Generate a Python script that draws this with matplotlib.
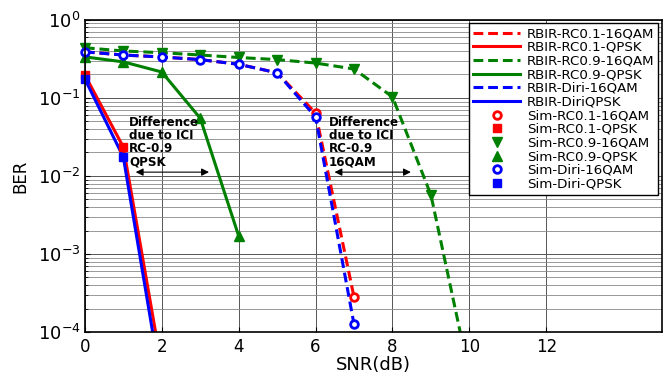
import matplotlib
matplotlib.use("Agg")
import matplotlib.pyplot as plt
import numpy as np

plt.rcParams['font.family'] = ['DejaVu Sans']
plt.rcParams['mathtext.default'] = 'regular'

# SNR points (dB)
snr_qpsk = [0, 1, 2]
snr_rc9_qpsk = [0, 1, 2, 3, 4]
snr_16qam = [0, 1, 2, 3, 4, 5, 6, 7]
snr_rc9_16qam = [0, 1, 2, 3, 4, 5, 6, 7, 8, 9, 10]

# BER values
ber_rc1_qpsk = [0.197, 0.0235, 3.5e-5]
ber_diri_qpsk = [0.175, 0.0175, 2.0e-5]
ber_rc9_qpsk = [0.336, 0.29, 0.215, 0.055, 0.0017]
ber_rc1_16qam = [0.39, 0.355, 0.335, 0.31, 0.27, 0.21, 0.064, 2.8e-4]
ber_diri_16qam = [0.39, 0.355, 0.335, 0.31, 0.27, 0.21, 0.057, 1.25e-4]
ber_rc9_16qam = [0.44, 0.40, 0.38, 0.355, 0.33, 0.31, 0.28, 0.235, 0.103, 0.0057, 2.8e-5]

n_sim_qpsk = 2

red = '#ff0000'
green = '#008000'
blue = '#0000ff'

fig = plt.figure(figsize=(6.63, 3.76), dpi=100)
ax = fig.add_axes([0.128, 0.117, 0.870, 0.830])

lw = 2.2
dash = (3.2, 1.6)
ax.plot(snr_16qam, ber_rc1_16qam, '--', color=red, lw=lw, dashes=dash, label='RBIR-RC0.1-16QAM')
ax.plot(snr_qpsk, ber_rc1_qpsk, '-', color=red, lw=lw, label='RBIR-RC0.1-QPSK')
ax.plot(snr_rc9_16qam, ber_rc9_16qam, '--', color=green, lw=lw, dashes=dash, label='RBIR-RC0.9-16QAM')
ax.plot(snr_rc9_qpsk, ber_rc9_qpsk, '-', color=green, lw=lw, label='RBIR-RC0.9-QPSK')
ax.plot(snr_16qam, ber_diri_16qam, '--', color=blue, lw=lw, dashes=dash, label='RBIR-Diri-16QAM')
ax.plot(snr_qpsk, ber_diri_qpsk, '-', color=blue, lw=lw, label='RBIR-DiriQPSK')

ms = 5.5
ax.plot(snr_16qam[-2:], ber_rc1_16qam[-2:], 'o', mfc='white', mec=red, mew=2, ms=ms, ls='none',
        clip_on=False, label='Sim-RC0.1-16QAM')
ax.plot(snr_qpsk[:n_sim_qpsk], ber_rc1_qpsk[:n_sim_qpsk], 's', mfc=red, mec=red, ms=ms, ls='none',
        clip_on=False, label='Sim-RC0.1-QPSK')
ax.plot(snr_rc9_16qam[:-1], ber_rc9_16qam[:-1], 'v', mfc=green, mec=green, ms=7.5, ls='none',
        clip_on=False, label='Sim-RC0.9-16QAM')
ax.plot(snr_rc9_qpsk, ber_rc9_qpsk, '^', mfc=green, mec=green, ms=7.5, ls='none',
        clip_on=False, label='Sim-RC0.9-QPSK')
ax.plot(snr_16qam, ber_diri_16qam, 'o', mfc='white', mec=blue, mew=2, ms=ms, ls='none',
        clip_on=False, label='Sim-Diri-16QAM')
ax.plot(snr_qpsk[:n_sim_qpsk], ber_diri_qpsk[:n_sim_qpsk], 's', mfc=blue, mec=blue, ms=ms, ls='none',
        clip_on=False, label='Sim-Diri-QPSK')

ax.set_yscale('log')
ax.set_xlim(0, 15)
ax.set_ylim(1e-4, 1)
ax.set_xticks([0, 2, 4, 6, 8, 10, 12])
ax.tick_params(axis='both', which='both', direction='in')
ax.tick_params(axis='x', labelsize=12, pad=4)
ax.tick_params(axis='y', labelsize=13, pad=3)
ax.tick_params(axis='y', which='minor', length=2)
ax.grid(True, which='major', color='#555555', lw=0.7)
ax.grid(True, which='minor', axis='y', color='#888888', lw=0.6)
for s in ax.spines.values():
    s.set_linewidth(1.2)

ax.set_xlabel('SNR(dB)', fontsize=13, labelpad=0)
ax.set_ylabel('BER', fontsize=12, labelpad=6)

ax.text(1.15, 0.058, 'Difference\ndue to ICI\nRC-0.9\nQPSK', fontsize=8.6, fontweight='bold',
        va='top', ha='left', linespacing=1.0)
ax.annotate('', xy=(1.25, 0.0112), xytext=(3.3, 0.0112),
            arrowprops=dict(arrowstyle='<|-|>', color='black', lw=0.8, mutation_scale=11))
ax.text(6.35, 0.058, 'Difference\ndue to ICI\nRC-0.9\n16QAM', fontsize=8.6, fontweight='bold',
        va='top', ha='left', linespacing=1.0)
ax.annotate('', xy=(6.42, 0.0112), xytext=(8.55, 0.0112),
            arrowprops=dict(arrowstyle='<|-|>', color='black', lw=0.8, mutation_scale=11))

leg = ax.legend(loc='upper right', fontsize=9.6, frameon=True, fancybox=False,
                edgecolor='black', framealpha=1, labelspacing=0.05, handlelength=3.5,
                borderaxespad=0.25, handletextpad=0.5, borderpad=0.3)
leg.get_frame().set_linewidth(1.0)

fig.savefig('out.png', dpi=100)
